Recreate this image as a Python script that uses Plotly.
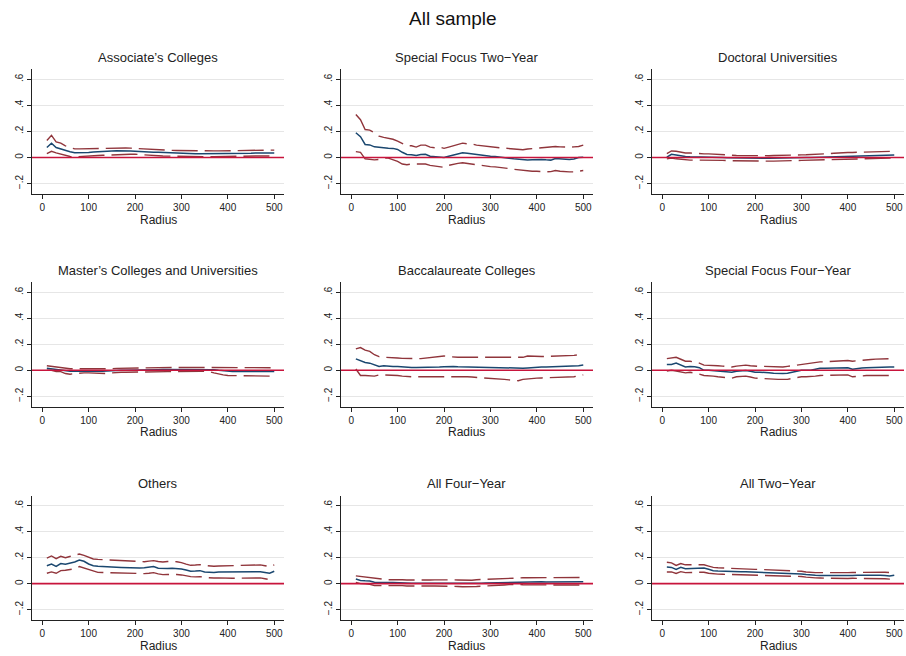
import plotly.graph_objects as go

# Radius grid (same for every panel)
radius = list(range(10, 510, 10))

titles = [
    "Associate\u2019s Colleges", "Special Focus Two\u2212Year", "Doctoral Universities",
    "Master\u2019s Colleges and Universities", "Baccalaureate Colleges", "Special Focus Four\u2212Year",
    "Others", "All Four\u2212Year", "All Two\u2212Year",
]

# ---- Associate's Colleges ----
assoc_est = [0.077, 0.110, 0.077, 0.065, 0.056, 0.044, 0.036, 0.035, 0.036, 0.038,
             0.042, 0.045, 0.046, 0.048, 0.050, 0.051, 0.052, 0.051, 0.050, 0.048,
             0.045, 0.042, 0.041, 0.040, 0.040, 0.038, 0.036, 0.034, 0.033, 0.032,
             0.030, 0.028, 0.028, 0.028, 0.028, 0.028, 0.029, 0.029, 0.030, 0.030,
             0.030, 0.030, 0.030, 0.030, 0.032, 0.035, 0.035, 0.035, 0.035, 0.035]
assoc_hi = [0.130, 0.170, 0.120, 0.110, 0.090, 0.075, 0.066, 0.066, 0.067, 0.068,
            0.070, 0.072, 0.073, 0.074, 0.075, 0.075, 0.074, 0.073, 0.072, 0.070,
            0.066, 0.062, 0.061, 0.060, 0.059, 0.058, 0.056, 0.055, 0.054, 0.053,
            0.052, 0.051, 0.050, 0.050, 0.050, 0.050, 0.051, 0.051, 0.052, 0.052,
            0.052, 0.052, 0.052, 0.052, 0.055, 0.057, 0.057, 0.057, 0.057, 0.057]
assoc_lo = [0.030, 0.048, 0.035, 0.025, 0.015, 0.008, 0.005, 0.006, 0.008, 0.010,
            0.012, 0.015, 0.017, 0.019, 0.022, 0.023, 0.025, 0.025, 0.025, 0.025,
            0.022, 0.020, 0.018, 0.015, 0.013, 0.012, 0.011, 0.010, 0.010, 0.010,
            0.008, 0.006, 0.005, 0.005, 0.005, 0.006, 0.007, 0.008, 0.008, 0.008,
            0.009, 0.010, 0.010, 0.010, 0.010, 0.012, 0.012, 0.012, 0.011, 0.010]

# ---- Special Focus Two-Year ----
sf2_est = [0.190, 0.160, 0.100, 0.097, 0.082, 0.077, 0.075, 0.072, 0.070, 0.062,
           0.040, 0.023, 0.022, 0.015, 0.023, 0.025, 0.010, 0.008, 0.005, 0.000,
           0.010, 0.020, 0.030, 0.036, 0.033, 0.028, 0.022, 0.020, 0.012, 0.010,
           0.008, 0.005, 0.000, -0.005, -0.010, -0.015, -0.020, -0.020, -0.018, -0.015,
           -0.015, -0.018, -0.020, -0.008, -0.010, -0.015, -0.015, -0.012, 0.000, 0.002]
sf2_hi = [0.330, 0.290, 0.215, 0.210, 0.190, 0.164, 0.155, 0.150, 0.140, 0.125,
          0.105, 0.090, 0.090, 0.080, 0.095, 0.095, 0.080, 0.075, 0.080, 0.070,
          0.080, 0.090, 0.100, 0.110, 0.105, 0.105, 0.095, 0.090, 0.085, 0.080,
          0.078, 0.075, 0.072, 0.070, 0.068, 0.065, 0.060, 0.065, 0.068, 0.070,
          0.072, 0.075, 0.080, 0.085, 0.082, 0.080, 0.080, 0.082, 0.085, 0.095]
sf2_lo = [0.045, 0.040, -0.010, -0.015, -0.018, -0.015, -0.005, -0.005, -0.015, -0.030,
          -0.050, -0.055, -0.050, -0.050, -0.045, -0.050, -0.060, -0.065, -0.065, -0.075,
          -0.060, -0.050, -0.045, -0.040, -0.045, -0.050, -0.055, -0.065, -0.070, -0.070,
          -0.072, -0.075, -0.080, -0.085, -0.090, -0.095, -0.100, -0.105, -0.105, -0.105,
          -0.108, -0.110, -0.108, -0.100, -0.105, -0.110, -0.110, -0.110, -0.105, -0.100]

# ---- Doctoral Universities ----
doc_est = [0.003, 0.025, 0.020, 0.012, 0.008, 0.005, 0.005, 0.004, 0.004, 0.005,
           0.004, 0.002, 0.000, -0.002, -0.003, -0.004, -0.004, -0.005, -0.005, -0.005,
           -0.005, -0.005, -0.005, -0.005, -0.005, -0.004, -0.003, -0.002, -0.001, 0.000,
           0.000, 0.001, 0.002, 0.003, 0.005, 0.006, 0.008, 0.010, 0.011, 0.012,
           0.012, 0.013, 0.014, 0.015, 0.015, 0.016, 0.018, 0.019, 0.020, 0.020]
doc_hi = [0.030, 0.050, 0.048, 0.040, 0.035, 0.035, 0.032, 0.028, 0.028, 0.028,
          0.027, 0.025, 0.022, 0.020, 0.018, 0.016, 0.015, 0.014, 0.013, 0.012,
          0.012, 0.013, 0.014, 0.015, 0.015, 0.016, 0.018, 0.020, 0.020, 0.020,
          0.021, 0.022, 0.024, 0.026, 0.028, 0.030, 0.033, 0.036, 0.038, 0.038,
          0.039, 0.040, 0.041, 0.042, 0.042, 0.044, 0.046, 0.047, 0.048, 0.048]
doc_lo = [-0.010, -0.005, -0.010, -0.015, -0.018, -0.020, -0.020, -0.020, -0.019, -0.018,
          -0.019, -0.020, -0.022, -0.024, -0.025, -0.026, -0.027, -0.028, -0.028, -0.028,
          -0.028, -0.028, -0.028, -0.028, -0.028, -0.027, -0.026, -0.024, -0.023, -0.022,
          -0.021, -0.020, -0.018, -0.016, -0.015, -0.014, -0.012, -0.011, -0.010, -0.010,
          -0.010, -0.009, -0.009, -0.008, -0.008, -0.007, -0.006, -0.006, -0.005, -0.005]

# ---- Master's Colleges and Universities ----
mas_est = [0.015, 0.010, 0.008, 0.003, -0.005, -0.008, -0.007, -0.005, -0.005, -0.005,
           -0.008, -0.010, -0.008, -0.005, -0.002, 0.000, 0.000, 0.000, 0.000, 0.000,
           0.001, 0.002, 0.003, 0.004, 0.005, 0.006, 0.006, 0.007, 0.008, 0.008,
           0.008, 0.008, 0.008, 0.008, 0.008, 0.008, 0.005, 0.000, -0.005, -0.010,
           -0.010, -0.009, -0.008, -0.008, -0.008, -0.008, -0.009, -0.010, -0.010, -0.010]
mas_hi = [0.035, 0.030, 0.025, 0.022, 0.015, 0.012, 0.012, 0.012, 0.012, 0.012,
          0.010, 0.008, 0.008, 0.008, 0.012, 0.015, 0.016, 0.017, 0.018, 0.018,
          0.018, 0.019, 0.020, 0.020, 0.020, 0.021, 0.021, 0.022, 0.022, 0.022,
          0.023, 0.024, 0.025, 0.025, 0.025, 0.024, 0.022, 0.020, 0.020, 0.020,
          0.020, 0.020, 0.020, 0.020, 0.020, 0.020, 0.020, 0.020, 0.020, 0.020]
mas_lo = [0.000, 0.000, -0.010, -0.010, -0.025, -0.030, -0.025, -0.020, -0.020, -0.020,
          -0.022, -0.025, -0.025, -0.025, -0.020, -0.015, -0.015, -0.015, -0.015, -0.015,
          -0.014, -0.013, -0.013, -0.012, -0.012, -0.011, -0.010, -0.009, -0.008, -0.008,
          -0.008, -0.008, -0.008, -0.008, -0.008, -0.010, -0.020, -0.030, -0.035, -0.040,
          -0.040, -0.040, -0.040, -0.040, -0.040, -0.042, -0.043, -0.044, -0.045, -0.045]

# ---- Baccalaureate Colleges ----
bac_est = [0.088, 0.075, 0.060, 0.055, 0.045, 0.030, 0.035, 0.030, 0.030, 0.030,
           0.026, 0.022, 0.022, 0.022, 0.022, 0.022, 0.022, 0.022, 0.025, 0.028,
           0.030, 0.030, 0.028, 0.027, 0.025, 0.023, 0.022, 0.025, 0.022, 0.020,
           0.020, 0.020, 0.019, 0.018, 0.018, 0.015, 0.016, 0.018, 0.022, 0.025,
           0.025, 0.026, 0.027, 0.028, 0.028, 0.028, 0.029, 0.030, 0.035, 0.040]
bac_hi = [0.165, 0.175, 0.155, 0.145, 0.120, 0.105, 0.100, 0.100, 0.098, 0.095,
          0.092, 0.090, 0.090, 0.090, 0.090, 0.093, 0.096, 0.100, 0.105, 0.110,
          0.105, 0.100, 0.100, 0.100, 0.100, 0.100, 0.102, 0.105, 0.102, 0.100,
          0.101, 0.102, 0.103, 0.104, 0.105, 0.103, 0.100, 0.110, 0.108, 0.105,
          0.106, 0.107, 0.108, 0.110, 0.110, 0.110, 0.112, 0.115, 0.120, 0.125]
bac_lo = [0.010, -0.040, -0.040, -0.040, -0.045, -0.035, -0.035, -0.035, -0.038, -0.040,
          -0.045, -0.050, -0.050, -0.050, -0.050, -0.050, -0.050, -0.050, -0.048, -0.045,
          -0.045, -0.045, -0.046, -0.048, -0.050, -0.052, -0.054, -0.055, -0.058, -0.060,
          -0.064, -0.067, -0.070, -0.074, -0.077, -0.080, -0.070, -0.065, -0.062, -0.060,
          -0.059, -0.058, -0.057, -0.056, -0.055, -0.055, -0.055, -0.050, -0.042, -0.035]

# ---- Special Focus Four-Year ----
sf4_est = [0.045, 0.045, 0.055, 0.040, 0.025, 0.030, 0.028, 0.020, 0.000, 0.000,
           -0.002, -0.005, -0.008, -0.012, -0.015, -0.008, -0.005, -0.002, -0.008, -0.015,
           -0.015, -0.015, -0.018, -0.022, -0.025, -0.025, -0.022, -0.015, -0.005, 0.000,
           0.000, 0.000, 0.008, 0.015, 0.015, 0.015, 0.017, 0.018, 0.019, 0.020,
           0.008, 0.015, 0.018, 0.020, 0.022, 0.023, 0.024, 0.025, 0.025, 0.025]
sf4_hi = [0.090, 0.095, 0.100, 0.085, 0.070, 0.070, 0.062, 0.055, 0.040, 0.040,
          0.038, 0.035, 0.032, 0.028, 0.025, 0.032, 0.038, 0.040, 0.035, 0.030,
          0.030, 0.030, 0.028, 0.025, 0.025, 0.025, 0.030, 0.035, 0.040, 0.050,
          0.052, 0.055, 0.060, 0.065, 0.065, 0.066, 0.068, 0.070, 0.072, 0.075,
          0.070, 0.072, 0.075, 0.080, 0.083, 0.086, 0.088, 0.090, 0.090, 0.090]
sf4_lo = [-0.005, 0.000, -0.005, -0.015, -0.020, -0.015, -0.020, -0.030, -0.040, -0.040,
          -0.045, -0.050, -0.053, -0.056, -0.060, -0.050, -0.048, -0.045, -0.052, -0.060,
          -0.062, -0.065, -0.067, -0.070, -0.070, -0.070, -0.070, -0.062, -0.055, -0.050,
          -0.050, -0.050, -0.045, -0.040, -0.040, -0.038, -0.036, -0.035, -0.035, -0.035,
          -0.050, -0.045, -0.043, -0.040, -0.040, -0.040, -0.040, -0.040, -0.040, -0.040]

# ---- Others ----
oth_est = [0.138, 0.150, 0.133, 0.154, 0.149, 0.156, 0.167, 0.182, 0.172, 0.151,
           0.138, 0.133, 0.130, 0.128, 0.127, 0.126, 0.125, 0.123, 0.122, 0.120,
           0.121, 0.123, 0.127, 0.131, 0.118, 0.115, 0.117, 0.118, 0.116, 0.113,
           0.105, 0.095, 0.097, 0.100, 0.090, 0.088, 0.085, 0.090, 0.090, 0.090,
           0.091, 0.091, 0.092, 0.092, 0.092, 0.092, 0.092, 0.086, 0.080, 0.095]
oth_hi = [0.197, 0.213, 0.192, 0.210, 0.200, 0.208, 0.218, 0.228, 0.218, 0.203,
          0.190, 0.187, 0.185, 0.182, 0.180, 0.177, 0.175, 0.172, 0.170, 0.169,
          0.169, 0.169, 0.173, 0.177, 0.170, 0.167, 0.170, 0.172, 0.168, 0.162,
          0.150, 0.141, 0.143, 0.146, 0.140, 0.136, 0.134, 0.136, 0.137, 0.138,
          0.139, 0.139, 0.140, 0.140, 0.141, 0.142, 0.144, 0.138, 0.131, 0.144]
oth_lo = [0.080, 0.090, 0.080, 0.100, 0.103, 0.110, 0.115, 0.131, 0.120, 0.105,
          0.095, 0.087, 0.086, 0.085, 0.083, 0.080, 0.080, 0.080, 0.078, 0.077,
          0.077, 0.077, 0.080, 0.085, 0.075, 0.069, 0.070, 0.072, 0.070, 0.067,
          0.060, 0.054, 0.052, 0.054, 0.048, 0.044, 0.043, 0.044, 0.042, 0.041,
          0.042, 0.042, 0.043, 0.043, 0.044, 0.044, 0.044, 0.038, 0.031, 0.041]

# ---- All Four-Year ----
a4_est = [0.035, 0.025, 0.022, 0.020, 0.010, 0.008, 0.008, 0.008, 0.008, 0.008,
          0.006, 0.003, 0.003, 0.002, 0.002, 0.002, 0.003, 0.003, 0.003, 0.003,
          0.003, 0.002, 0.001, 0.000, -0.002, -0.002, 0.000, 0.002, 0.004, 0.005,
          0.006, 0.007, 0.008, 0.010, 0.013, 0.013, 0.014, 0.014, 0.015, 0.015,
          0.014, 0.013, 0.013, 0.013, 0.013, 0.014, 0.014, 0.015, 0.015, 0.015]
a4_hi = [0.060, 0.055, 0.050, 0.045, 0.040, 0.035, 0.032, 0.030, 0.031, 0.032,
         0.030, 0.028, 0.027, 0.026, 0.025, 0.027, 0.028, 0.029, 0.030, 0.030,
         0.030, 0.029, 0.028, 0.026, 0.025, 0.026, 0.030, 0.032, 0.034, 0.035,
         0.036, 0.038, 0.040, 0.043, 0.045, 0.045, 0.045, 0.045, 0.045, 0.045,
         0.045, 0.045, 0.045, 0.045, 0.045, 0.046, 0.046, 0.047, 0.048, 0.048]
a4_lo = [0.010, 0.000, -0.002, -0.005, -0.015, -0.015, -0.013, -0.012, -0.012, -0.012,
         -0.015, -0.018, -0.019, -0.020, -0.020, -0.019, -0.018, -0.018, -0.018, -0.018,
         -0.019, -0.020, -0.022, -0.024, -0.025, -0.025, -0.022, -0.020, -0.017, -0.015,
         -0.013, -0.012, -0.010, -0.008, -0.005, -0.007, -0.009, -0.010, -0.010, -0.010,
         -0.010, -0.010, -0.010, -0.010, -0.010, -0.010, -0.010, -0.010, -0.010, -0.010]

# ---- All Two-Year ----
a2_est = [0.128, 0.125, 0.110, 0.125, 0.115, 0.115, 0.117, 0.120, 0.120, 0.110,
          0.100, 0.097, 0.095, 0.094, 0.093, 0.092, 0.092, 0.091, 0.090, 0.090,
          0.089, 0.088, 0.087, 0.086, 0.085, 0.083, 0.082, 0.080, 0.078, 0.075,
          0.070, 0.065, 0.064, 0.063, 0.063, 0.060, 0.058, 0.060, 0.061, 0.062,
          0.063, 0.064, 0.065, 0.065, 0.065, 0.065, 0.065, 0.062, 0.058, 0.065]
a2_hi = [0.165, 0.160, 0.140, 0.155, 0.145, 0.145, 0.145, 0.145, 0.145, 0.135,
         0.125, 0.122, 0.120, 0.118, 0.115, 0.114, 0.113, 0.112, 0.111, 0.110,
         0.109, 0.108, 0.107, 0.106, 0.105, 0.104, 0.102, 0.100, 0.098, 0.095,
         0.090, 0.085, 0.085, 0.085, 0.085, 0.082, 0.080, 0.082, 0.084, 0.085,
         0.086, 0.087, 0.088, 0.088, 0.088, 0.089, 0.090, 0.088, 0.085, 0.090]
a2_lo = [0.090, 0.090, 0.078, 0.092, 0.085, 0.085, 0.087, 0.090, 0.088, 0.080,
         0.075, 0.073, 0.072, 0.071, 0.070, 0.070, 0.069, 0.069, 0.068, 0.068,
         0.067, 0.065, 0.065, 0.064, 0.063, 0.062, 0.061, 0.060, 0.058, 0.055,
         0.050, 0.045, 0.044, 0.043, 0.042, 0.040, 0.038, 0.039, 0.040, 0.040,
         0.041, 0.041, 0.042, 0.042, 0.042, 0.042, 0.042, 0.038, 0.035, 0.040]

panels = [
    (assoc_est, assoc_hi, assoc_lo), (sf2_est, sf2_hi, sf2_lo), (doc_est, doc_hi, doc_lo),
    (mas_est, mas_hi, mas_lo), (bac_est, bac_hi, bac_lo), (sf4_est, sf4_hi, sf4_lo),
    (oth_est, oth_hi, oth_lo), (a4_est, a4_hi, a4_lo), (a2_est, a2_hi, a2_lo),
]

x_ticks = [0, 100, 200, 300, 400, 500]
y_ticks = [-0.2, 0, 0.2, 0.4, 0.6]
y_tick_text = ["\u2212.2", "0", ".2", ".4", ".6"]

W, H = 906, 656
FONT = "Liberation Sans, Arial, Helvetica, sans-serif"
NAVY = "#1a476f"
MAROON = "#90353b"
ZERO = "#c8143c"
GRID = "#e6e6e6"
AXIS = "#222222"

# panel frames in pixels: (left, right) per column, (top, bottom) per row
col_px = [(32, 284), (341, 593), (652, 904)]
row_px = [(69.3, 194.0), (282.3, 406.7), (495.7, 620.0)]

fig = go.Figure()
layout = dict(
    width=W, height=H,
    margin=dict(l=0, r=0, t=0, b=0),
    paper_bgcolor="white", plot_bgcolor="white",
    showlegend=False,
    font=dict(family=FONT, color="#222222"),
    annotations=[], shapes=[],
)

for i, (est, hi, lo) in enumerate(panels):
    r, c = divmod(i, 3)
    n = i + 1
    xa = "x" if n == 1 else f"x{n}"
    ya = "y" if n == 1 else f"y{n}"
    for series, color, dash, width in ((hi, MAROON, "26px,7px", 1.4),
                                       (lo, MAROON, "26px,7px", 1.4),
                                       (est, NAVY, "solid", 1.5)):
        fig.add_trace(go.Scatter(x=radius, y=series, mode="lines", xaxis=xa, yaxis=ya,
                                 line=dict(color=color, width=width, dash=dash),
                                 hoverinfo="skip"))
    l, rr = col_px[c]
    t, b = row_px[r]
    xdom = [l / W, rr / W]
    ydom = [1 - b / H, 1 - t / H]
    layout["xaxis" if n == 1 else f"xaxis{n}"] = dict(
        domain=xdom, anchor=ya, range=[-22, 521],
        tickvals=x_ticks, ticks="outside", ticklen=4, tickcolor=AXIS, tickwidth=1,
        showgrid=False, zeroline=False, showline=True, linecolor=AXIS, linewidth=1,
        tickfont=dict(size=10, family=FONT, color="#222222"),
    )
    layout["yaxis" if n == 1 else f"yaxis{n}"] = dict(
        domain=ydom, anchor=xa, range=[-0.28, 0.677],
        tickvals=y_ticks, ticktext=y_tick_text, tickangle=-90,
        ticks="outside", ticklen=4, tickcolor=AXIS, tickwidth=1,
        showgrid=True, gridcolor=GRID, gridwidth=1,
        zeroline=False, showline=True, linecolor=AXIS, linewidth=1,
        tickfont=dict(size=10, family=FONT, color="#222222"),
    )
    # panel title
    layout["annotations"].append(dict(
        text=titles[i], x=(xdom[0] + xdom[1]) / 2, y=1 - (t - 12) / H,
        xref="paper", yref="paper", showarrow=False, xanchor="center", yanchor="middle",
        font=dict(size=13, family=FONT, color="#222222"),
    ))
    # x-axis title
    layout["annotations"].append(dict(
        text="Radius", x=(xdom[0] + xdom[1]) / 2, y=1 - (b + 25.5) / H,
        xref="paper", yref="paper", showarrow=False, xanchor="center", yanchor="middle",
        font=dict(size=12, family=FONT, color="#222222"),
    ))
    # reference line at zero
    layout["shapes"].append(dict(
        type="line", xref=f"{xa} domain", yref=ya, x0=0, x1=1, y0=0, y1=0,
        line=dict(color=ZERO, width=1.6), layer="above",
    ))

layout["annotations"].append(dict(
    text="All sample", x=0.5, y=1 - 18 / H, xref="paper", yref="paper",
    showarrow=False, xanchor="center", yanchor="middle",
    font=dict(size=19, family=FONT, color="#111111"),
))

fig.update_layout(**layout)
fig.write_html("out.html")
